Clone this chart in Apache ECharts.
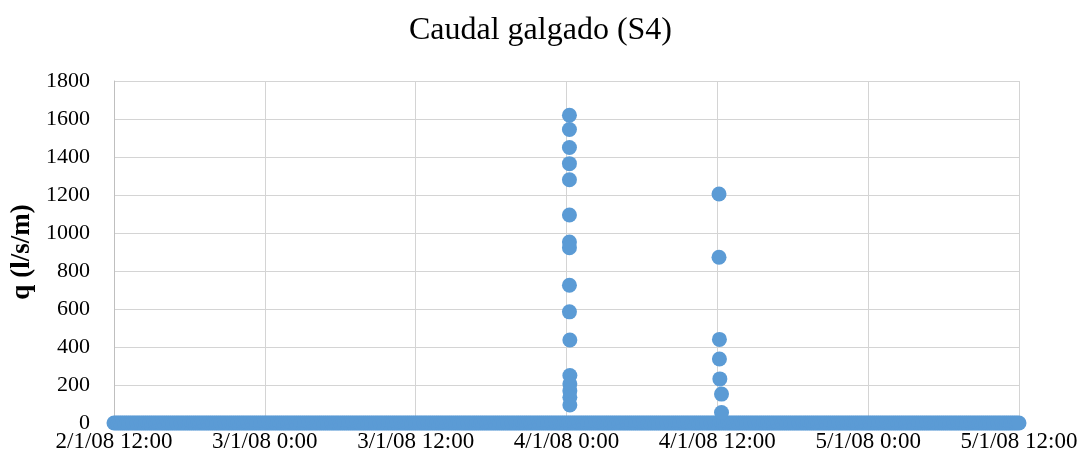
<!DOCTYPE html>
<html>
<head>
<meta charset="utf-8">
<script src="https://cdn.jsdelivr.net/npm/echarts@6/dist/echarts.min.js"></script>
<style>
  html, body { margin: 0; padding: 0; background: #fff; }
  #chart { width: 1081px; height: 461px; }
</style>
</head>
<body>
<div id="chart"></div>
<script>
// axis range (UTC), ticks every 12 h
var xStart = '2008-01-02 12:00';
var xEnd = '2008-01-05 12:00';
var yTicks = [0, 200, 400, 600, 800, 1000, 1200, 1400, 1600, 1800];

// logger samples with zero discharge, every 10 minutes over the whole record
var baseStepMin = 10;
var baseValue = 0;

// overtopping event around 4/1/08 0:00
var event1Times = ['2008-01-04 00:14', '2008-01-04 00:14', '2008-01-04 00:14', '2008-01-04 00:14',
                   '2008-01-04 00:14', '2008-01-04 00:14', '2008-01-04 00:14', '2008-01-04 00:14',
                   '2008-01-04 00:14', '2008-01-04 00:14', '2008-01-04 00:16', '2008-01-04 00:16',
                   '2008-01-04 00:16', '2008-01-04 00:16', '2008-01-04 00:16', '2008-01-04 00:16'];
var event1Values = [1620, 1545, 1450, 1365, 1280, 1095, 952, 922, 725, 585, 437, 250, 205, 170, 135, 95];

// second event around 4/1/08 12:00
var event2Times = ['2008-01-04 12:08', '2008-01-04 12:08', '2008-01-04 12:10', '2008-01-04 12:10',
                   '2008-01-04 12:12', '2008-01-04 12:20', '2008-01-04 12:20'];
var event2Values = [1205, 872, 440, 337, 232, 152, 55];

function toMs(s) {
  var p = s.split(/[- :]/).map(Number);
  return Date.UTC(p[0], p[1] - 1, p[2], p[3], p[4]);
}

var xMin = toMs(xStart), xMax = toMs(xEnd);
var data = [];
for (var t = xMin; t <= xMax; t += baseStepMin * 60000) data.push([t, baseValue]);
event1Times.forEach(function (s, i) { data.push([toMs(s), event1Values[i]]); });
event2Times.forEach(function (s, i) { data.push([toMs(s), event2Values[i]]); });

function fmt(v) {
  var d = new Date(v);
  return d.getUTCDate() + '/' + (d.getUTCMonth() + 1) + '/' +
    String(d.getUTCFullYear()).slice(2) + ' ' + d.getUTCHours() + ':' +
    ('0' + d.getUTCMinutes()).slice(-2);
}

var serif = '"Liberation Serif", "DejaVu Serif", serif';
var chart = echarts.init(document.getElementById('chart'), null, { renderer: 'canvas' });
chart.setOption({
  backgroundColor: '#fff',
  animation: false,
  title: {
    text: 'Caudal galgado (S4)',
    left: 'center',
    top: 10,
    textStyle: { fontFamily: serif, fontSize: 32, fontWeight: 'normal', color: '#000' }
  },
  grid: { left: 114, right: 62, top: 81, bottom: 38 },
  xAxis: {
    type: 'value',
    min: xMin,
    max: xMax,
    interval: 12 * 3600000,
    axisLine: { show: false },
    axisTick: { show: false },
    splitLine: { lineStyle: { color: '#d4d4d4', width: 1 } },
    axisLabel: {
      formatter: fmt,
      fontFamily: serif,
      fontSize: 23,
      color: '#000',
      margin: 7,
      showMinLabel: true,
      showMaxLabel: true
    }
  },
  yAxis: {
    type: 'value',
    min: yTicks[0],
    max: yTicks[yTicks.length - 1],
    interval: yTicks[1] - yTicks[0],
    name: 'q (l/s/m)',
    nameLocation: 'middle',
    nameGap: 74,
    nameTextStyle: { fontFamily: serif, fontSize: 27, fontWeight: 'bold', color: '#000' },
    axisLine: { show: true, lineStyle: { color: '#bfbfbf' } },
    axisTick: { show: false },
    splitLine: { lineStyle: { color: '#d4d4d4', width: 1 } },
    axisLabel: { formatter: function (v) { return String(v); }, fontFamily: serif, fontSize: 22, color: '#000', margin: 24 }
  },
  series: [{
    type: 'scatter',
    data: data,
    symbol: 'circle',
    symbolSize: 15,
    itemStyle: { color: '#5b9bd5', opacity: 1 },
    large: false
  }]
});
</script>
</body>
</html>
